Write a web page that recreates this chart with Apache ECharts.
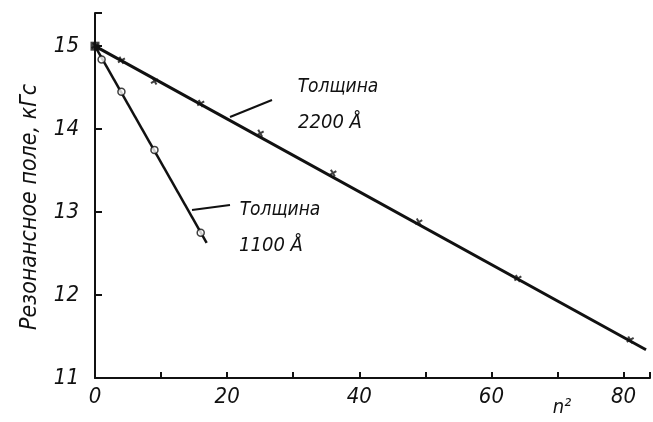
<!DOCTYPE html>
<html><head><meta charset="utf-8">
<script src="https://cdn.jsdelivr.net/npm/echarts@6/dist/echarts.min.js"></script>
<style>html,body{margin:0;padding:0;background:#fff}#c{width:653px;height:422px}</style>
</head><body><div id="c"></div>
<script>
// --- data ---
const n2_2200 = [0, 4, 9, 16, 25, 36, 49, 64, 81];
const H_2200  = [15.0, 14.83, 14.58, 14.31, 13.95, 13.47, 12.88, 12.2, 11.46];
const fit_2200 = [[0, 15.0], [83.4, 11.34]];
const n2_1100 = [0, 1, 4, 9, 16];
const H_1100  = [15.0, 14.84, 14.45, 13.75, 12.75];
const fit_1100 = [[0, 15.0], [16.9, 12.63]];
const xTicks = [0, 20, 40, 60, 80];
const yTicks = [11, 12, 13, 14, 15];
const yTitle = 'Резонансное поле, кГс';
const xTitle = 'n²';
const label2200 = ['Толщина', '2200 Å'];
const label1100 = ['Толщина', '1100 Å'];

const FONT = '"Liberation Sans Narrow","DejaVu Sans Condensed","Liberation Sans",sans-serif';
const chart = echarts.init(document.getElementById('c'));
const pts = (xs, ys) => xs.map((x, i) => [x, ys[i]]);

chart.setOption({
  animation: false,
  backgroundColor: '#fff',
  grid: {left: 95, right: 1, top: 13, bottom: 44},
  xAxis: {
    type: 'value', min: 0, max: 84, interval: 10,
    axisLine: {lineStyle: {color: '#111', width: 2}},
    axisTick: {inside: true, length: 6, lineStyle: {color: '#111', width: 2}},
    axisLabel: {color: '#111', fontSize: 22, fontStyle: 'italic', fontFamily: FONT, margin: 8,
      formatter: v => xTicks.includes(v) ? String(v) : ''},
    splitLine: {show: false}
  },
  yAxis: {
    type: 'value', min: 11, max: 15.4, interval: 1,
    axisLine: {lineStyle: {color: '#111', width: 2}},
    axisTick: {inside: true, length: 7, lineStyle: {color: '#111', width: 2}},
    axisLabel: {color: '#111', fontSize: 22, fontStyle: 'italic', fontFamily: FONT, margin: 16,
      formatter: v => yTicks.includes(v) ? String(v) : ''},
    splitLine: {show: false}
  },
  series: [
    {type: 'line', data: fit_2200, symbol: 'none', lineStyle: {color: '#111', width: 3}, z: 2},
    {type: 'line', data: fit_1100, symbol: 'none', lineStyle: {color: '#111', width: 2.5}, z: 2},
    {type: 'scatter', data: pts(n2_2200, H_2200), symbol: 'path://M-1,0L1,0M0,-1L0,1',
      symbolSize: 8, symbolRotate: 30, itemStyle: {color: 'none', borderColor: '#111', borderWidth: 2}, z: 3},
    {type: 'scatter', data: pts(n2_1100, H_1100).slice(1), symbol: 'circle', symbolSize: 7,
      itemStyle: {color: '#fff', borderColor: '#111', borderWidth: 1.5}, z: 4},
    {type: 'scatter', data: [pts(n2_2200, H_2200)[0]], symbol: 'rect', symbolSize: 9,
      itemStyle: {color: '#111'}, z: 5}
  ],
  graphic: [
    {type: 'text', x: 30, y: 207, rotation: Math.PI / 2,
      style: {text: yTitle, fill: '#111', font: 'italic 23px ' + FONT, align: 'center', verticalAlign: 'middle'}},
    {type: 'text', x: 562, y: 408, style: {text: xTitle, fill: '#111', font: 'italic 20px ' + FONT, align: 'center', verticalAlign: 'middle'}},
    {type: 'text', x: 338, y: 87, style: {text: label2200[0], fill: '#111', font: 'italic 19px ' + FONT, align: 'center', verticalAlign: 'middle'}},
    {type: 'text', x: 330, y: 123, style: {text: label2200[1], fill: '#111', font: 'italic 20px ' + FONT, align: 'center', verticalAlign: 'middle'}},
    {type: 'text', x: 280, y: 210, style: {text: label1100[0], fill: '#111', font: 'italic 19px ' + FONT, align: 'center', verticalAlign: 'middle'}},
    {type: 'text', x: 271, y: 246, style: {text: label1100[1], fill: '#111', font: 'italic 20px ' + FONT, align: 'center', verticalAlign: 'middle'}},
    {type: 'line', shape: {x1: 230, y1: 117, x2: 272, y2: 100}, style: {stroke: '#111', lineWidth: 2}},
    {type: 'line', shape: {x1: 192, y1: 210, x2: 230, y2: 205}, style: {stroke: '#111', lineWidth: 2}}
  ]
});
</script></body></html>
